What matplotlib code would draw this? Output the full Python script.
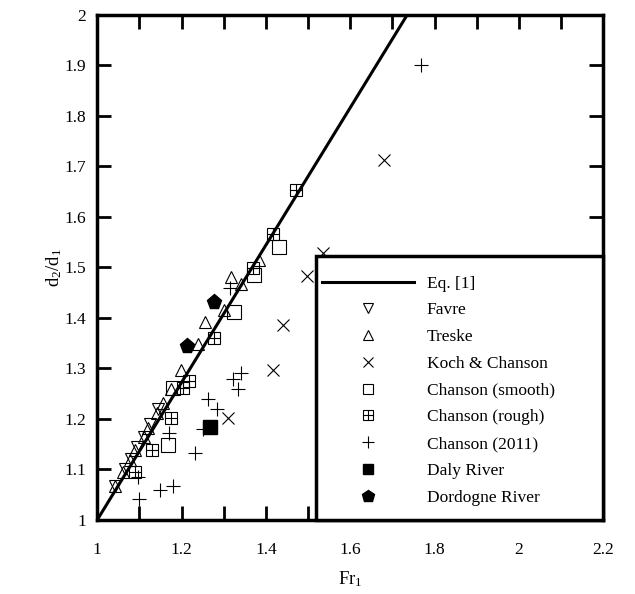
import matplotlib
matplotlib.use('Agg')
import matplotlib.pyplot as plt
from matplotlib.patches import Rectangle
from matplotlib.lines import Line2D
from matplotlib.ticker import MultipleLocator, FuncFormatter

plt.rcParams['font.family'] = ['Liberation Serif', 'DejaVu Serif']
plt.rcParams['mathtext.fontset'] = 'custom'
plt.rcParams['mathtext.rm'] = 'Liberation Serif'
plt.rcParams['mathtext.default'] = 'regular'

eq_fr = [1.0, 1.735]
eq_d = [1.0, 2.0]

favre_fr = [1.043, 1.065, 1.080, 1.095, 1.110, 1.125, 1.145]
favre_d = [1.067, 1.100, 1.120, 1.145, 1.165, 1.190, 1.220]

treske_fr = [1.043, 1.062, 1.079, 1.090, 1.110, 1.121, 1.143, 1.155, 1.175,
             1.198, 1.238, 1.255, 1.300, 1.317, 1.340, 1.383]
treske_d = [1.067, 1.095, 1.119, 1.139, 1.164, 1.182, 1.212, 1.232, 1.260,
            1.297, 1.349, 1.392, 1.416, 1.481, 1.467, 1.515]

koch_fr = [1.310, 1.417, 1.440, 1.498, 1.536, 1.679]
koch_d = [1.202, 1.297, 1.387, 1.483, 1.528, 1.713]

smooth_fr = [1.167, 1.179, 1.324, 1.371, 1.431]
smooth_d = [1.149, 1.261, 1.412, 1.485, 1.541]

rough_fr = [1.090, 1.129, 1.174, 1.203, 1.217, 1.276, 1.369, 1.417, 1.471]
rough_d = [1.095, 1.139, 1.202, 1.261, 1.275, 1.360, 1.499, 1.566, 1.653]

c2011_fr = [1.100, 1.150, 1.181, 1.098, 1.233, 1.171, 1.250, 1.283, 1.262,
            1.333, 1.321, 1.340, 1.315, 1.767]
c2011_d = [1.042, 1.059, 1.067, 1.085, 1.133, 1.172, 1.180, 1.220, 1.240,
           1.259, 1.279, 1.291, 1.459, 1.900]

daly_fr = [1.267]
daly_d = [1.184]

dordogne_fr = [1.214, 1.276]
dordogne_d = [1.345, 1.432]

fig = plt.figure(figsize=(6.35, 5.94), dpi=100)
ax = fig.add_axes([0.153, 0.1246, 0.797, 0.8502])

mk = dict(linestyle='none', color='black', markerfacecolor='none',
          markeredgewidth=0.8)

h_favre, = ax.plot(favre_fr, favre_d, marker='v', markersize=9, **mk)
h_treske, = ax.plot(treske_fr, treske_d, marker='^', markersize=9, **mk)
h_koch, = ax.plot(koch_fr, koch_d, marker='x', markersize=9, **mk)
h_smooth, = ax.plot(smooth_fr, smooth_d, marker='s', markersize=9.5, **mk)
ax.plot(rough_fr, rough_d, marker='s', markersize=8.5, **mk)
ax.plot(rough_fr, rough_d, marker='+', markersize=8.5, **mk)
h_2011, = ax.plot(c2011_fr, c2011_d, marker='+', markersize=10, **mk)
h_daly, = ax.plot(daly_fr, daly_d, linestyle='none', marker='s', markersize=9.5,
                  color='black')
h_dord, = ax.plot(dordogne_fr, dordogne_d, linestyle='none', marker='p',
                  markersize=11, color='black')
h_eq, = ax.plot(eq_fr, eq_d, color='black', linewidth=2.2, zorder=3)

ax.set_xlim(1, 2.2)
ax.set_ylim(1, 2)
ax.xaxis.set_major_locator(MultipleLocator(0.2))
ax.xaxis.set_minor_locator(MultipleLocator(0.1))
ax.yaxis.set_major_locator(MultipleLocator(0.1))
fmt = FuncFormatter(lambda v, p: '%g' % round(v, 2))
ax.xaxis.set_major_formatter(fmt)
ax.yaxis.set_major_formatter(fmt)
ax.tick_params(which='both', direction='in', top=True, right=True,
               length=10, width=2, labelsize=12.5)
ax.tick_params(axis='x', pad=16)
ax.tick_params(axis='y', pad=8)
for s in ax.spines.values():
    s.set_linewidth(2.5)

ax.set_xlabel('Fr$_1$', fontsize=13.5, labelpad=8)
ax.set_ylabel('d$_2$/d$_1$', fontsize=13.5, labelpad=0)

# legend box
ax.add_patch(Rectangle((0.4328, 0.0), 0.5672, 0.5228, transform=ax.transAxes,
                       facecolor='white', edgecolor='black', linewidth=2.5,
                       zorder=5, clip_on=False))

h_rough = (Line2D([], [], linestyle='none', marker='s', markersize=8.5,
                  color='black', markerfacecolor='none', markeredgewidth=0.8),
           Line2D([], [], linestyle='none', marker='+', markersize=8.5,
                  color='black', markeredgewidth=0.8))
handles = [h_eq, h_favre, h_treske, h_koch, h_smooth, h_rough, h_2011,
           h_daly, h_dord]
labels = ['Eq. [1]', 'Favre', 'Treske', 'Koch & Chanson', 'Chanson (smooth)',
          'Chanson (rough)', 'Chanson (2011)', 'Daly River', 'Dordogne River']
leg = ax.legend(handles, labels, loc='upper left',
                bbox_to_anchor=(0.445, 0.484), frameon=False, fontsize=12.5,
                handlelength=5.3, handletextpad=0.7, labelspacing=0.61,
                borderpad=0.0, borderaxespad=0.0, markerscale=0.8)
leg.set_zorder(6)

fig.savefig('out.png', dpi=100)
